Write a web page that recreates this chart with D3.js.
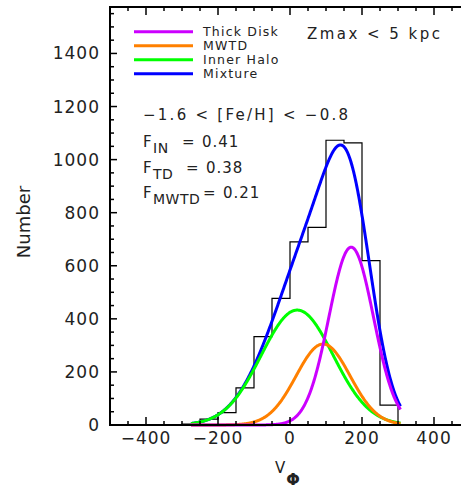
<!DOCTYPE html>
<html><head><meta charset="utf-8">
<script src="https://cdn.jsdelivr.net/npm/d3@7"></script>
<style>body{margin:0;background:#fff} svg{display:block}</style>
</head><body><svg id="c" width="461" height="491"></svg>
<script>
// ---- data ----
const binStarts = [-300,-250,-200,-150,-100,-50,0,50,100,150,200,250];
const binCounts = [3,22,47,140,333,477,690,745,1073,1063,619,75];
const binWidth = 50;
const componentNames = ["Thick Disk","MWTD","Inner Halo"];
const componentMeans = [170, 92, 20];
const componentSigmas = [62, 75, 100];
const componentAmps = [670, 305, 433];
const componentColors = ["#cc00ff","#ff8000","#00ff00"];
const mixtureColor = "#0000ff";
const legendNames = ["Thick Disk","MWTD","Inner Halo","Mixture"];
const legendColors = ["#cc00ff","#ff8000","#00ff00","#0000ff"];
const curveRange = [-275, 307];
const xTickLabels = [-400,-200,0,200,400];
const yTickLabels = [0,200,400,600,800,1000,1200,1400];

// ---- layout ----
const svg = d3.select("#c");
const L=110, R=470, T=7, B=425;
const x = d3.scaleLinear().domain([-500,500]).range([L,R]);
const y = d3.scaleLinear().domain([0,1575]).range([B,T]);
const font = "'DejaVu Sans', sans-serif";

// histogram step path
const pts = [[binStarts[0],0]];
binStarts.forEach((s,i)=>{ pts.push([s,binCounts[i]]); pts.push([s+binWidth,binCounts[i]]); });
pts.push([binStarts[binStarts.length-1]+binWidth,0]);
svg.append("path").attr("d", d3.line().x(d=>x(d[0])).y(d=>y(d[1]))(pts))
  .attr("fill","none").attr("stroke","#000").attr("stroke-width",1.2);

// curves
const vs = d3.range(curveRange[0], curveRange[1]+0.001, 1);
const gauss = (v,i)=> componentAmps[i]*Math.exp(-((v-componentMeans[i])**2)/(2*componentSigmas[i]**2));
const line = d3.line().x(d=>x(d[0])).y(d=>y(d[1])).curve(d3.curveLinear);
const mix = vs.map(v=>[v, componentNames.reduce((s,_,i)=>s+gauss(v,i),0)]);
svg.append("path").attr("d", line(mix)).attr("fill","none").attr("stroke",mixtureColor).attr("stroke-width",3);
[2,1,0].forEach(i=>{
  svg.append("path").attr("d", line(vs.map(v=>[v,gauss(v,i)])))
    .attr("fill","none").attr("stroke",componentColors[i]).attr("stroke-width",3);
});

// axes
function ticksX(g, dir){
  d3.range(-500,501,50).forEach(v=>{
    const len = v%200===0?8:4;
    g.append("line").attr("x1",x(v)).attr("x2",x(v)).attr("y1",dir>0?B:T).attr("y2",dir>0?B-len:T+len)
     .attr("stroke","#000").attr("stroke-width",1.5);
  });
}
function ticksY(g, xpos, dir){
  d3.range(0,1576,50).forEach(v=>{
    const len = v%200===0?7:4;
    g.append("line").attr("y1",y(v)).attr("y2",y(v)).attr("x1",xpos).attr("x2",xpos+dir*len)
     .attr("stroke","#000").attr("stroke-width",1.5);
  });
}
const ax = svg.append("g");
ticksX(ax,1); ticksX(ax,-1);
ticksY(ax,L,1); ticksY(ax,R,-1);
ax.append("rect").attr("x",L).attr("y",T).attr("width",R-L).attr("height",B-T)
  .attr("fill","none").attr("stroke","#000").attr("stroke-width",2);

const fmt = d3.format("");
svg.append("g").selectAll("text").data(xTickLabels).join("text")
  .attr("x",d=>x(d)).attr("y",444).attr("text-anchor","middle")
  .attr("font-family",font).attr("font-size",17).attr("letter-spacing",1).attr("fill","#222")
  .text(d=>fmt(d));
svg.append("g").selectAll("text").data(yTickLabels).join("text")
  .attr("x",100).attr("y",d=>y(d)+6).attr("text-anchor","end")
  .attr("font-family",font).attr("font-size",17).attr("letter-spacing",1).attr("fill","#222")
  .text(d=>fmt(d));

// axis titles
svg.append("text").attr("transform","translate(30,222) rotate(-90)").attr("text-anchor","middle")
  .attr("font-family",font).attr("font-size",18).attr("fill","#222").text("Number");
const xt = svg.append("text").attr("x",275).attr("y",473).attr("font-family",font).attr("font-size",15).attr("fill","#222");
xt.append("tspan").text("V");
xt.append("tspan").attr("dy",12).attr("dx",1).attr("font-size",16).attr("font-weight","bold").text("Φ");

// legend
legendNames.forEach((n,i)=>{
  const ly = 31.7+14*i;
  svg.append("line").attr("x1",134).attr("x2",193).attr("y1",ly).attr("y2",ly)
    .attr("stroke",legendColors[i]).attr("stroke-width",3);
  svg.append("text").attr("x",203).attr("y",ly+4.5).attr("font-family",font).attr("font-size",12.5)
    .attr("letter-spacing",1.2).attr("fill","#222").text(n);
});

// annotations
function txt(xp,yp,s,size,len){
  const t = svg.append("text").attr("x",xp).attr("y",yp).attr("font-family",font).attr("font-size",size).attr("fill","#222").text(s);
  if(len) t.attr("textLength",len).attr("lengthAdjust","spacing");
  return t;
}
txt(307,39,"Zmax < 5 kpc",15,133);
txt(143,120,"−1.6 < [Fe/H] < −0.8",15,205);
function fLabel(yp, sub, eqX, val){
  const t = svg.append("text").attr("y",yp).attr("font-family",font).attr("font-size",15).attr("fill","#222");
  t.append("tspan").attr("x",143).text("F");
  t.append("tspan").attr("dy",6).attr("x",153).attr("font-size",14).attr("letter-spacing",0.5).text(sub);
  t.append("tspan").attr("dy",-6).attr("x",eqX).text("=");
  t.append("tspan").attr("x",eqX+20).attr("letter-spacing",1).text(val);
}
fLabel(147,"IN",182,"0.41");
fLabel(173,"TD",186,"0.38");
fLabel(198,"MWTD",203,"0.21");
</script></body></html>
